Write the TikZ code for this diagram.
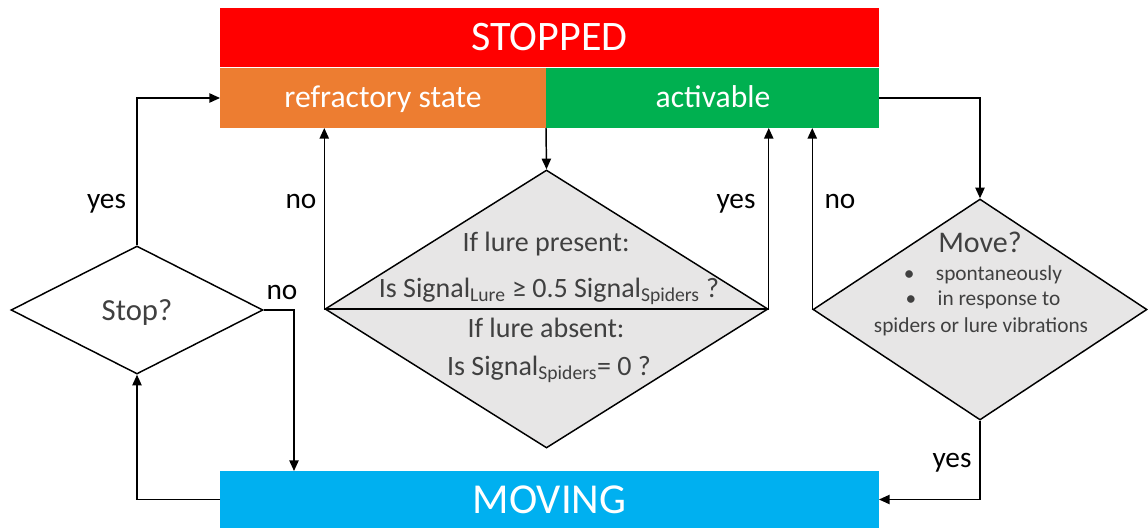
\documentclass[tikz,border=0pt]{standalone}
\usepackage{fontspec}
\setmainfont{Carlito}
\usetikzlibrary{shapes.geometric,arrows.meta,fit}
\definecolor{stopred}{HTML}{FF0000}
\definecolor{refrorange}{HTML}{ED7D31}
\definecolor{actgreen}{HTML}{00B050}
\definecolor{moveblue}{HTML}{00B0F0}
\definecolor{qgray}{HTML}{E7E6E6}
\definecolor{qtext}{HTML}{404040}
\newcommand{\lowsub}[1]{\textsubscript{#1}}
\tikzset{
  statebox/.style={inner sep=0pt, outer sep=0pt},
  statetext/.style={text=white, inner sep=0pt},
  question/.style={diamond, draw=black, line width=1.1pt, inner sep=0pt},
  qlabel/.style={anchor=base, text=qtext, inner sep=0pt},
  answer/.style={anchor=base, text=black, inner sep=0pt, font=\fontsize{22}{24}\selectfont},
  flow/.style={line width=1.1pt, -{Triangle[length=8pt,width=7pt]}},
  plain/.style={line width=1.1pt}
}
\begin{document}
\begin{tikzpicture}[x=0.75pt,y=-0.75pt]
\useasboundingbox (0,0) rectangle (1148,528);

% state bars
\node[statebox, fill=stopred, fit={(220,8) (879,67)}] (stopped) {};
\node[statebox, fill=refrorange, fit={(220,68) (546,128)}] (refr) {};
\node[statebox, fill=actgreen, fit={(546,68) (879,128)}] (act) {};
\node[statebox, fill=moveblue, fit={(220,471) (879,528)}] (moving) {};

\node[statetext, font=\fontsize{31.5}{34}\selectfont] (stoppedtxt) at (stopped.center) {STOPPED};
\node[statetext, anchor=base, font=\fontsize{23.7}{26}\selectfont] (refrtxt) at (383,108) {refractory state};
\node[statetext, anchor=base, font=\fontsize{23.7}{26}\selectfont] (acttxt) at (713,108) {activable};
\node[statetext, font=\fontsize{32}{34}\selectfont] (movingtxt) at (moving.center) {MOVING};

% decision shapes
\node[question, fill=white, minimum width=252*0.75pt, minimum height=128*0.75pt] (stopq) at (137,310) {};
\node[question, fill=qgray, minimum width=443*0.75pt, minimum height=278*0.75pt] (signal) at (546.5,309) {};
\node[question, fill=qgray, minimum width=334*0.75pt, minimum height=221*0.75pt] (moveq) at (980,309.5) {};
\draw[plain] (signal.west) -- (signal.east);

% texts of the decisions
\node[qlabel, font=\fontsize{23}{25}\selectfont] at (137,320) {Stop?};

\node[qlabel, font=\fontsize{21}{23}\selectfont] at (546,251) {If lure present:};
\node[qlabel, font=\fontsize{21}{23}\selectfont] at (549,297)
  {Is Signal\lowsub{Lure}\ ≥ 0.5 Signal\lowsub{Spiders} ?};
\node[qlabel, font=\fontsize{21}{23}\selectfont] at (546,337) {If lure absent:};
\node[qlabel, font=\fontsize{21}{23}\selectfont] at (549,375)
  {Is Signal\lowsub{Spiders}= 0 ?};

\node[qlabel, font=\fontsize{22.5}{24}\selectfont] at (980,252) {Move?};
\node[qlabel, font=\fontsize{16}{18}\selectfont] at (983,280) {•\quad spontaneously};
\node[qlabel, font=\fontsize{16}{18}\selectfont] at (983,305) {•\quad in response to};
\node[qlabel, font=\fontsize{16}{18}\selectfont] at (981,332) {spiders or lure vibrations};

% helper points
\coordinate (nodrop) at (294,310);

% connectors
\draw[flow] (stopq.north) |- (refr.west);
\draw[flow] (stopq.east) -- (nodrop) -- (nodrop |- moving.north);
\draw[flow] (moving.west) -| (stopq.south);
\draw[flow] (refr.south east) -- (signal.north);
\draw[flow] (signal.west) -- (signal.west |- refr.south);
\draw[flow] (signal.east) -- (signal.east |- act.south);
\draw[flow] (act.east) -| (moveq.north);
\draw[flow] (moveq.west) -- (moveq.west |- act.south);
\draw[flow] (moveq.south) |- (moving.east);

% answer labels
\node[answer] at (106.5,208) {yes};
\node[answer] at (301,208) {no};
\node[answer] at (736,208) {yes};
\node[answer] at (840,208) {no};
\node[answer] at (282,299) {no};
\node[answer] at (952,467) {yes};
\end{tikzpicture}
\end{document}
